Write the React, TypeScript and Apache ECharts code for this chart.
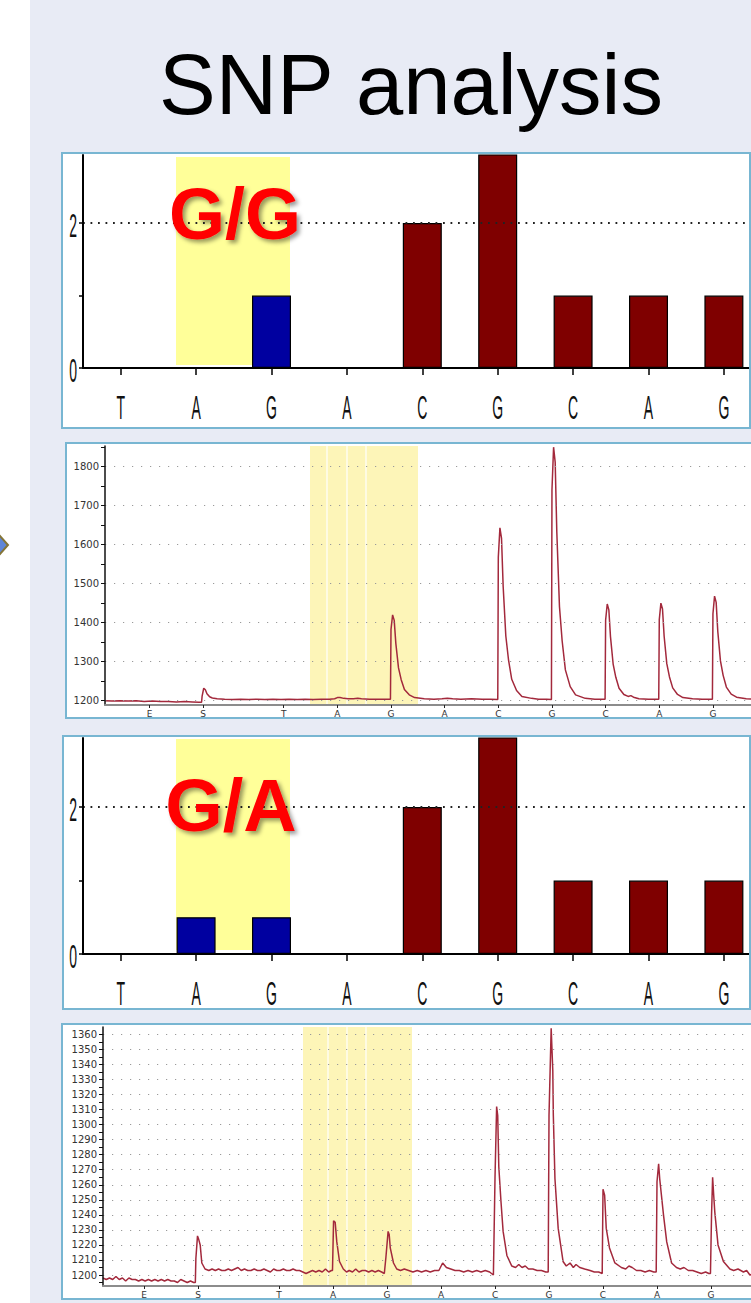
import React, { useEffect, useRef } from 'react';
import * as echarts from 'echarts';

// ---------- data ----------
const barCategories = ['T', 'A', 'G', 'A', 'C', 'G', 'C', 'A', 'G'];
const ggValues = [0, 0, 1, 0, 2, 3, 1, 1, 1];
const gaValues = [0, 0.5, 0.5, 0, 2, 3, 1, 1, 1];
const snpIndices = [1, 2];
const barYTicks = [0, 1, 2];
const barYLabels = [0, 2];
const barGridLines = [2];

const dispensationPositions = [0.5, 1.5, 3, 4, 5, 6, 7, 8, 9, 10, 11];
const dispensationLabels = ['E', 'S', 'T', 'A', 'G', 'A', 'C', 'G', 'C', 'A', 'G'];

const pyro1YLabels = [1200, 1300, 1400, 1500, 1600, 1700, 1800];
const pyro1YTicks = [1200, 1250, 1300, 1350, 1400, 1450, 1500, 1550, 1600, 1650, 1700, 1750, 1800, 1850];
const pyro2YLabels = [1200, 1210, 1220, 1230, 1240, 1250, 1260, 1270, 1280, 1290, 1300, 1310, 1320, 1330, 1340, 1350, 1360];
const pyro2YTicks = [1195, 1200, 1205, 1210, 1215, 1220, 1225, 1230, 1235, 1240, 1245, 1250, 1255, 1260, 1265, 1270, 1275, 1280, 1285, 1290, 1295, 1300, 1305, 1310, 1315, 1320, 1325, 1330, 1335, 1340, 1345, 1350, 1355, 1360];

const pyro1Signal = [
  [-0.33, 1200], [-0.2, 1199], [-0.05, 1200], [0.1, 1199], [0.25, 1200], [0.4, 1198], [0.55, 1199], [0.7, 1198], [0.85, 1198], [1.0, 1197], [1.15, 1198], [1.3, 1197], [1.42, 1196], [1.47, 1196],
  [1.48, 1212], [1.51, 1232], [1.54, 1228], [1.57, 1218], [1.62, 1210], [1.67, 1207], [1.76, 1205], [1.9, 1204],
  [2.05, 1203], [2.2, 1204], [2.35, 1203], [2.5, 1204], [2.65, 1203], [2.8, 1204], [2.95, 1203], [3.1, 1204], [3.25, 1203], [3.4, 1204], [3.55, 1203], [3.7, 1204], [3.85, 1204], [3.95, 1205], [4.0, 1208], [4.05, 1208], [4.12, 1206], [4.2, 1205], [4.3, 1205], [4.38, 1206], [4.45, 1205], [4.6, 1204], [4.75, 1204], [4.9, 1204], [4.99, 1204],
  [5.0, 1383], [5.03, 1420], [5.06, 1406], [5.09, 1347], [5.14, 1284], [5.19, 1254], [5.25, 1229], [5.34, 1215], [5.44, 1208], [5.62, 1205],
  [5.8, 1204], [5.95, 1205], [6.05, 1206], [6.15, 1205], [6.3, 1204], [6.5, 1205], [6.7, 1204], [6.85, 1204], [6.99, 1203],
  [7.0, 1568], [7.03, 1643], [7.06, 1616], [7.09, 1494], [7.14, 1366], [7.19, 1305], [7.25, 1255], [7.34, 1226], [7.44, 1211], [7.62, 1206],
  [7.75, 1204], [7.9, 1204], [7.99, 1203],
  [8.0, 1740], [8.03, 1850], [8.06, 1811], [8.09, 1633], [8.14, 1441], [8.19, 1353], [8.25, 1279], [8.34, 1236], [8.44, 1215], [8.62, 1206],
  [8.8, 1204], [8.9, 1204], [8.99, 1204],
  [9.0, 1407], [9.03, 1448], [9.06, 1433], [9.09, 1365], [9.14, 1294], [9.19, 1260], [9.25, 1232], [9.34, 1216], [9.42, 1211], [9.47, 1213], [9.52, 1209], [9.62, 1205], [9.8, 1204], [9.99, 1204],
  [10.0, 1408], [10.03, 1450], [10.06, 1435], [10.09, 1366], [10.14, 1295], [10.19, 1261], [10.25, 1233], [10.34, 1216], [10.44, 1208], [10.62, 1205], [10.8, 1204], [10.99, 1204],
  [11.0, 1423], [11.03, 1468], [11.06, 1452], [11.09, 1378], [11.14, 1302], [11.19, 1265], [11.25, 1235], [11.34, 1217], [11.44, 1209], [11.62, 1205], [11.8, 1204], [12, 1204],
];

const pyro2Signal = [
  [-0.26, 1198], [-0.2, 1197], [-0.14, 1198], [-0.08, 1197], [-0.02, 1199], [0.04, 1197], [0.1, 1198], [0.16, 1196], [0.22, 1198], [0.28, 1197], [0.34, 1197], [0.4, 1196], [0.46, 1197], [0.52, 1196], [0.58, 1197], [0.64, 1196], [0.7, 1197], [0.76, 1196], [0.82, 1197], [0.88, 1196], [0.94, 1197], [1.0, 1196], [1.06, 1196], [1.12, 1195], [1.18, 1197], [1.24, 1196], [1.3, 1195], [1.36, 1196], [1.42, 1195], [1.45, 1195],
  [1.46, 1211], [1.49, 1226], [1.51, 1224], [1.54, 1220], [1.57, 1208], [1.63, 1204],
  [1.7, 1203], [1.76, 1204], [1.82, 1203], [1.88, 1204], [1.94, 1203], [2.0, 1203], [2.06, 1204], [2.12, 1203], [2.18, 1204], [2.24, 1205], [2.3, 1203], [2.36, 1204], [2.42, 1203], [2.48, 1203], [2.54, 1204], [2.6, 1203], [2.66, 1203], [2.72, 1204], [2.78, 1203], [2.84, 1202], [2.9, 1204], [2.96, 1203], [3.02, 1203], [3.08, 1204], [3.14, 1203], [3.2, 1203], [3.26, 1204], [3.32, 1203], [3.38, 1203], [3.44, 1202], [3.5, 1201], [3.56, 1202], [3.62, 1203], [3.68, 1202], [3.74, 1203], [3.8, 1202], [3.86, 1204], [3.92, 1202], [3.97, 1203],
  [3.99, 1203], [4.01, 1236], [4.04, 1235], [4.07, 1222], [4.12, 1209], [4.19, 1204],
  [4.25, 1202], [4.3, 1203], [4.36, 1202], [4.42, 1204], [4.48, 1202], [4.54, 1203], [4.6, 1203], [4.66, 1202], [4.72, 1203], [4.78, 1202], [4.84, 1203], [4.9, 1202], [4.95, 1201],
  [4.98, 1212], [5.02, 1229], [5.04, 1227], [5.06, 1218], [5.12, 1208], [5.18, 1204],
  [5.25, 1203], [5.32, 1204], [5.4, 1203], [5.48, 1202], [5.56, 1203], [5.64, 1202], [5.72, 1203], [5.8, 1202], [5.88, 1203], [5.96, 1203], [6.03, 1208], [6.1, 1205], [6.18, 1204], [6.26, 1203], [6.34, 1203], [6.42, 1202], [6.5, 1203], [6.58, 1202], [6.66, 1203], [6.74, 1202], [6.82, 1203], [6.9, 1202], [6.97, 1200],
  [7.0, 1265], [7.03, 1312], [7.05, 1306], [7.07, 1272], [7.11, 1249], [7.15, 1229], [7.22, 1213], [7.31, 1206],
  [7.38, 1205], [7.44, 1207], [7.5, 1205], [7.56, 1206], [7.62, 1204], [7.7, 1204], [7.78, 1203], [7.86, 1203], [7.94, 1202], [7.985, 1202],
  [8.0, 1306], [8.04, 1364], [8.07, 1336], [8.08, 1306], [8.11, 1264], [8.17, 1231], [8.26, 1209], [8.32, 1206], [8.39, 1208], [8.45, 1205], [8.5, 1207], [8.57, 1205], [8.66, 1204], [8.76, 1203], [8.84, 1202], [8.92, 1202], [8.985, 1201],
  [9.0, 1257], [9.03, 1253], [9.06, 1231], [9.12, 1218], [9.22, 1208], [9.34, 1205], [9.42, 1204], [9.48, 1206], [9.54, 1205], [9.62, 1203], [9.7, 1203], [9.78, 1202], [9.86, 1203], [9.94, 1202], [9.985, 1202],
  [10.0, 1262], [10.03, 1274], [10.05, 1264], [10.12, 1240], [10.18, 1222], [10.27, 1208], [10.36, 1205], [10.43, 1204], [10.5, 1205], [10.58, 1203], [10.66, 1203], [10.74, 1202], [10.82, 1201], [10.9, 1202], [10.96, 1201], [10.99, 1201],
  [11.01, 1240], [11.03, 1265], [11.05, 1253], [11.07, 1242], [11.13, 1220], [11.23, 1209], [11.35, 1204], [11.42, 1203], [11.5, 1204], [11.6, 1202], [11.66, 1203], [11.72, 1200], [11.8, 1201], [12, 1201],
];

// ---------- styles ----------
const SANS = '"Liberation Sans", Arial, sans-serif';
const SMALL = '"DejaVu Sans", sans-serif';
const BLUE = '#0000a0';
const MAROON = '#7f0000';
const TRACE = '#a3293c';
const PANEL_BORDER = '#78b6d2';

function labelFor(v: number) {
  const i = dispensationPositions.findIndex((p) => Math.abs(p - v) < 1e-6);
  return i >= 0 ? dispensationLabels[i] : '';
}

function barXAxis(gridIndex: number) {
  return {
    type: 'category', gridIndex, data: barCategories, boundaryGap: true, z: 5,
    axisLine: { show: true, onZero: false, lineStyle: { color: '#000', width: 2 } },
    axisTick: { show: true, alignWithLabel: true, length: 7, lineStyle: { color: '#000', width: 1.5 } },
    // labels are drawn condensed (tall & narrow) as graphic text placed through the axis scale
    axisLabel: { show: false },
    splitLine: { show: false },
  };
}
function barYAxis(gridIndex: number) {
  return {
    type: 'value', gridIndex, min: 0, max: 2.94, z: 5,
    axisLine: { show: true, onZero: false, lineStyle: { color: '#000', width: 2 } },
    axisTick: { show: true, customValues: barYTicks, length: 4, lineStyle: { color: '#000', width: 1.5 } },
    axisLabel: { show: false },
    splitLine: { show: false },
  };
}
function pyroXAxis(gridIndex: number, min: number) {
  return {
    type: 'value', gridIndex, min, max: 12, z: 5,
    axisLine: { show: true, onZero: false, lineStyle: { color: '#8c8c8c', width: 2 } },
    axisTick: { show: true, customValues: dispensationPositions, length: 3, lineStyle: { color: '#222', width: 1 } },
    axisLabel: { customValues: dispensationPositions, formatter: (v: number) => labelFor(v), color: '#333', fontSize: 9, fontFamily: SMALL, margin: 4 },
    splitLine: { show: false },
  };
}
function pyroYAxis(gridIndex: number, min: number, max: number, ticks: number[], labels: number[]) {
  return {
    type: 'value', gridIndex, min, max, z: 5,
    axisLine: { show: true, onZero: false, lineStyle: { color: '#111', width: 1.5 } },
    axisTick: { show: true, customValues: ticks, length: 4, lineStyle: { color: '#111', width: 1 } },
    axisLabel: { customValues: labels, formatter: (v: number) => String(v), color: '#333', fontSize: 10, fontFamily: SMALL, margin: 6 },
    splitLine: { show: false },
  };
}

function barSeries(idx: number, values: number[]) {
  return {
    type: 'bar', xAxisIndex: idx, yAxisIndex: idx, barWidth: 39, z: 3,
    data: values.map((v, i) => ({ value: v, itemStyle: { color: snpIndices.includes(i) ? BLUE : MAROON } })),
    itemStyle: { borderColor: '#000', borderWidth: 1.2 },
    emphasis: { disabled: true },
  };
}
function gridLineSeries(idx: number, values: number[], style: any, isCategory: boolean) {
  return {
    type: 'line', xAxisIndex: idx, yAxisIndex: idx, z: 1, silent: true,
    data: isCategory ? barCategories.map(() => null) : [],
    showSymbol: false, lineStyle: { opacity: 0 },
    markLine: {
      silent: true, symbol: ['none', 'none'], label: { show: false }, emphasis: { disabled: true },
      lineStyle: style,
      data: values.map((v) => ({ yAxis: v })),
    },
  };
}
function pyroSeries(idx: number, data: number[][]) {
  return {
    type: 'line', xAxisIndex: idx, yAxisIndex: idx, z: 3, data, showSymbol: false, clip: true,
    lineStyle: { color: TRACE, width: 1.5 }, emphasis: { disabled: true },
  };
}

const barDots = { color: '#222', width: 1.8, type: [1.8, 5.7] };
const pyroDots = { color: '#9a9a9a', width: 1.2, type: [1.2, 7.8] };

const genotypeStyle = {
  fontWeight: 'bold', fontFamily: SANS, fill: '#ff0000', align: 'center', verticalAlign: 'middle',
  textShadowColor: 'rgba(0,0,0,0.4)', textShadowBlur: 4, textShadowOffsetX: 3, textShadowOffsetY: 3,
  shadowColor: 'rgba(0,0,0,0.4)', shadowBlur: 4, shadowOffsetX: 3, shadowOffsetY: 3,
};

const graphic: any[] = [
  { type: 'rect', shape: { x: 30, y: 0, width: 721, height: 1303 }, style: { fill: '#e8ebf5' }, z: -10 },
  { type: 'polygon', shape: { points: [[-8, 545], [0, 536], [8, 545], [0, 554]] }, style: { fill: '#5f86d8', stroke: '#857536', lineWidth: 2 }, z: -9 },
  { type: 'text', x: 411, y: 84, style: { text: 'SNP analysis', fontSize: 85, fontFamily: SANS, fill: '#000', align: 'center', verticalAlign: 'middle' }, z: -9 },
  // panel backgrounds
  { type: 'rect', shape: { x: 62, y: 153, width: 688, height: 275 }, style: { fill: '#fff' }, z: -9 },
  { type: 'rect', shape: { x: 66, y: 443, width: 700, height: 275 }, style: { fill: '#fff' }, z: -9 },
  { type: 'rect', shape: { x: 63, y: 736, width: 687, height: 273 }, style: { fill: '#fff' }, z: -9 },
  { type: 'rect', shape: { x: 62, y: 1024, width: 700, height: 275 }, style: { fill: '#fff' }, z: -9 },
  // highlights
  { type: 'rect', shape: { x: 176, y: 157, width: 114, height: 208 }, style: { fill: '#ffff99' }, z: -5 },
  { type: 'rect', shape: { x: 176, y: 739, width: 114, height: 211 }, style: { fill: '#ffff99' }, z: -5 },
  { type: 'rect', shape: { x: 310, y: 446, width: 108, height: 258 }, style: { fill: '#fdf5b8' }, z: 2 },
  { type: 'rect', shape: { x: 303, y: 1027, width: 109, height: 258 }, style: { fill: '#fdf5b8' }, z: 2 },
  ...[327, 347, 366].map((x) => ({ type: 'line', shape: { x1: x, y1: 446, x2: x, y2: 704 }, style: { stroke: '#fff', lineWidth: 1.2 }, z: 2.1 })),
  ...[328, 347, 366].map((x) => ({ type: 'line', shape: { x1: x, y1: 1027, x2: x, y2: 1285 }, style: { stroke: '#fff', lineWidth: 1.2 }, z: 2.1 })),
  // genotype labels
  { type: 'text', x: 235, y: 214, style: { ...genotypeStyle, text: 'G/G', fontSize: 72 }, z: 10 },
  { type: 'text', x: 231, y: 805, style: { ...genotypeStyle, text: 'G/A', fontSize: 74 }, z: 10 },
  // panel borders
  { type: 'rect', shape: { x: 62, y: 153, width: 688, height: 275 }, style: { fill: 'none', stroke: PANEL_BORDER, lineWidth: 2 }, z: 20 },
  { type: 'rect', shape: { x: 66, y: 443, width: 700, height: 275 }, style: { fill: 'none', stroke: PANEL_BORDER, lineWidth: 2 }, z: 20 },
  { type: 'rect', shape: { x: 63, y: 736, width: 687, height: 273 }, style: { fill: 'none', stroke: PANEL_BORDER, lineWidth: 2 }, z: 20 },
  { type: 'rect', shape: { x: 62, y: 1024, width: 700, height: 275 }, style: { fill: 'none', stroke: PANEL_BORDER, lineWidth: 2 }, z: 20 },
];

const gridBase = { outerBoundsMode: 'none', containLabel: false };
const option: any = {
  animation: false,
  backgroundColor: '#ffffff',
  grid: [
    { ...gridBase, left: 83, top: 155, width: 678.6, height: 213 },
    { ...gridBase, left: 105, top: 446, width: 661.6, height: 259 },
    { ...gridBase, left: 83, top: 738, width: 678.6, height: 216 },
    { ...gridBase, left: 103, top: 1027, width: 662, height: 259 },
  ],
  xAxis: [barXAxis(0), pyroXAxis(1, -0.33), barXAxis(2), pyroXAxis(3, -0.26)],
  yAxis: [
    barYAxis(0),
    pyroYAxis(1, 1189, 1853, pyro1YTicks, pyro1YLabels),
    barYAxis(2),
    pyroYAxis(3, 1192.7, 1364.9, pyro2YTicks, pyro2YLabels),
  ],
  series: [
    gridLineSeries(0, barGridLines, barDots, true),
    barSeries(0, ggValues),
    gridLineSeries(1, pyro1YLabels, pyroDots, false),
    pyroSeries(1, pyro1Signal),
    gridLineSeries(2, barGridLines, barDots, true),
    barSeries(2, gaValues),
    gridLineSeries(3, pyro2YLabels, pyroDots, false),
    pyroSeries(3, pyro2Signal),
  ],
  graphic,
};

// condensed axis labels for the bar panels, positioned with the axes' own scales
function condensedLabel(text: string, x: number, y: number, align: string) {
  return {
    type: 'text', x, y, scaleX: 0.7, scaleY: 1.68, z: 6,
    style: { text, fontSize: 20, fontFamily: SANS, fill: '#111', align, verticalAlign: 'middle' },
  };
}

export default function App() {
  const ref = useRef<HTMLDivElement>(null);
  useEffect(() => {
    if (!ref.current) return;
    const chart = echarts.init(ref.current, null, { renderer: 'svg' });
    chart.setOption(option);
    const extra: any[] = [];
    [0, 2].forEach((gi) => {
      const axisY = chart.convertToPixel({ yAxisIndex: gi }, 0) as number;
      const gridLeft = option.grid[gi].left as number;
      barCategories.forEach((c, i) => {
        const px = chart.convertToPixel({ xAxisIndex: gi }, i) as number;
        extra.push(condensedLabel(c, px, axisY + 39, 'center'));
      });
      barYLabels.forEach((v) => {
        const py = chart.convertToPixel({ yAxisIndex: gi }, v) as number;
        extra.push(condensedLabel(String(v), gridLeft - 6, py + 2, 'right'));
      });
    });
    chart.setOption({ graphic: [...graphic, ...extra] });
    return () => chart.dispose();
  }, []);
  return (
    <div style={{ position: 'absolute', left: 0, top: 0, width: 751, height: 1303, overflow: 'hidden', background: '#fff' }}>
      <div ref={ref} style={{ width: 751, height: 1303 }} />
    </div>
  );
}
